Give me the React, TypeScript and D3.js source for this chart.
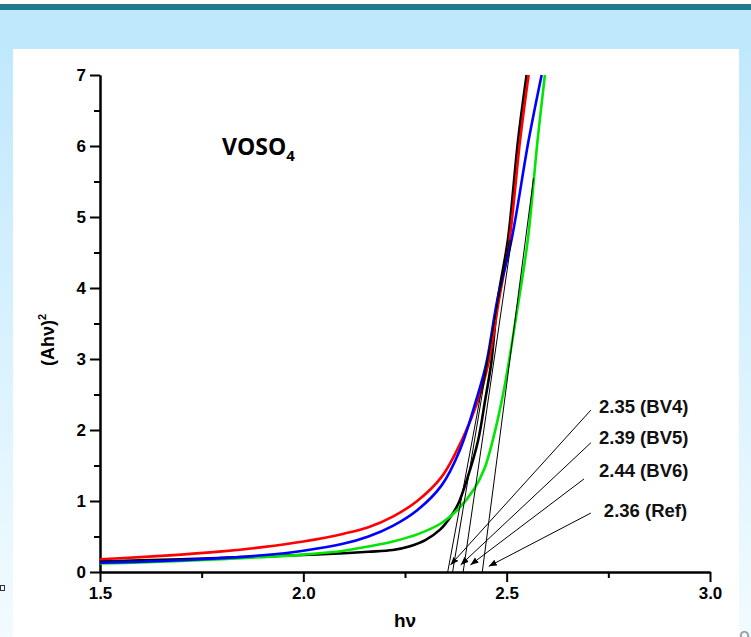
import React, { useEffect, useRef } from 'react';
import * as d3 from 'd3';

// curves: [hv, (Ahv)^2]
const refData: [number, number][] = [
  [1.5, 0.15], [1.6, 0.165], [1.7, 0.18], [1.8, 0.2], [1.9, 0.22], [2.0, 0.24],
  [2.1, 0.265], [2.16, 0.285], [2.22, 0.31], [2.26, 0.36], [2.3, 0.45], [2.337, 0.6],
  [2.36, 0.76], [2.38, 0.95], [2.405, 1.35], [2.43, 1.86], [2.447, 2.42], [2.462, 2.94],
  [2.478, 3.83], [2.503, 4.68], [2.528, 6.08], [2.549, 7.0]
];
const bv6Data: [number, number][] = [
  [1.5, 0.12], [1.6, 0.135], [1.7, 0.155], [1.8, 0.18], [1.9, 0.21], [2.0, 0.245],
  [2.1, 0.3], [2.16, 0.36], [2.22, 0.43], [2.28, 0.53], [2.34, 0.69], [2.38, 0.88],
  [2.42, 1.17], [2.445, 1.45], [2.466, 1.86], [2.493, 2.56], [2.527, 3.73], [2.552, 4.68],
  [2.576, 6.08], [2.594, 7.0]
];
const bv4Data: [number, number][] = [
  [1.5, 0.18], [1.6, 0.21], [1.7, 0.245], [1.8, 0.29], [1.9, 0.35], [2.0, 0.43],
  [2.1, 0.54], [2.16, 0.63], [2.22, 0.78], [2.28, 1.0], [2.34, 1.34], [2.39, 1.86],
  [2.43, 2.42], [2.455, 2.94], [2.481, 3.83], [2.507, 4.68], [2.533, 6.08], [2.554, 7.0]
];
const bv5Data: [number, number][] = [
  [1.5, 0.13], [1.6, 0.145], [1.7, 0.165], [1.8, 0.195], [1.9, 0.235], [2.0, 0.3],
  [2.1, 0.4], [2.16, 0.5], [2.22, 0.65], [2.28, 0.87], [2.34, 1.22], [2.385, 1.72],
  [2.425, 2.42], [2.45, 2.94], [2.477, 3.83], [2.512, 4.68], [2.554, 6.08], [2.586, 7.0]
];

const xTicks = [1.5, 2.0, 2.5, 3.0];
const xMinorTicks = [1.75, 2.25, 2.75];
const yTicks = [0, 1, 2, 3, 4, 5, 6, 7];
const yMinorTicks = [0.5, 1.5, 2.5, 3.5, 4.5, 5.5, 6.5];

// tangent lines: x-intercept and upper end
const tangentStart = [2.355, 2.393, 2.44, 2.367];
const tangentEnd: [number, number][] = [[2.507, 4.68], [2.512, 4.68], [2.566, 5.55], [2.503, 4.68]];

// annotations
const noteLabels = ['2.35 (BV4)', '2.39 (BV5)', '2.44 (BV6)', '2.36 (Ref)'];
const notePos: [number, number][] = [[2.727, 2.24], [2.727, 1.80], [2.727, 1.34], [2.739, 0.775]];
const noteFrom: [number, number][] = [[2.707, 2.28], [2.707, 1.82], [2.69, 1.31], [2.707, 0.83]];
const noteTo: [number, number][] = [[2.362, 0.1], [2.387, 0.1], [2.411, 0.1], [2.456, 0.08]];

const W = 751;
const H = 637;

const App: React.FC = () => {
  const svgRef = useRef<SVGSVGElement>(null);

  useEffect(() => {
    if (!svgRef.current) return;
    const root = d3.select(svgRef.current);
    root.selectAll('*').remove();

    const font = "'Liberation Sans', Arial, sans-serif";

    // slide background
    const defs = root.append('defs');
    const grad = defs.append('linearGradient').attr('id', 'side').attr('x1', 0).attr('y1', 0).attr('x2', 0).attr('y2', 1);
    grad.append('stop').attr('offset', '0%').attr('stop-color', '#c0e8fd');
    grad.append('stop').attr('offset', '100%').attr('stop-color', '#f2fbff');
    defs.append('marker')
      .attr('id', 'arrow')
      .attr('markerUnits', 'userSpaceOnUse')
      .attr('viewBox', '0 0 10 10')
      .attr('refX', 10).attr('refY', 5)
      .attr('markerWidth', 8).attr('markerHeight', 8)
      .attr('orient', 'auto')
      .append('path').attr('d', 'M0,1 L10,5 L0,9 Z').attr('fill', '#000');

    root.append('rect').attr('width', W).attr('height', H).attr('fill', '#fff');
    root.append('rect').attr('x', 0).attr('y', 4).attr('width', W).attr('height', 6).attr('fill', '#217a8d');
    root.append('rect').attr('x', 0).attr('y', 10).attr('width', W).attr('height', 39).attr('fill', '#c0e8fd');
    root.append('rect').attr('x', 0).attr('y', 49).attr('width', 13).attr('height', H - 49).attr('fill', 'url(#side)');
    root.append('rect').attr('x', 739).attr('y', 49).attr('width', 12).attr('height', H - 49).attr('fill', 'url(#side)');
    root.append('rect').attr('x', 0.5).attr('y', 585.5).attr('width', 4).attr('height', 5)
      .attr('fill', 'none').attr('stroke', '#333').attr('stroke-width', 1);
    root.append('text').attr('x', 739).attr('y', 645).attr('font-family', font).attr('font-size', 20)
      .attr('fill', '#999').text('9');

    const x = d3.scaleLinear().domain([1.5, 3.0]).range([100, 710]);
    const y = d3.scaleLinear().domain([0, 7]).range([572, 75]);

    // axes
    const yAxis = root.append('g').attr('transform', 'translate(100,0)')
      .call(d3.axisLeft(y).tickValues(yTicks).tickSize(10).tickSizeOuter(0).tickPadding(4).tickFormat(d3.format('d')));
    const yMinor = root.append('g').attr('transform', 'translate(100,0)')
      .call(d3.axisLeft(y).tickValues(yMinorTicks).tickSize(6).tickSizeOuter(0).tickFormat(() => ''));
    const xAxis = root.append('g').attr('transform', 'translate(0,572)')
      .call(d3.axisBottom(x).tickValues(xTicks).tickSize(10).tickSizeOuter(0).tickPadding(5).tickFormat(d3.format('.1f')));
    const xMinor = root.append('g').attr('transform', 'translate(0,572)')
      .call(d3.axisBottom(x).tickValues(xMinorTicks).tickSize(6).tickSizeOuter(0).tickFormat(() => ''));

    [yAxis, yMinor, xAxis, xMinor].forEach(g => {
      g.select('.domain').attr('stroke', '#000').attr('stroke-width', 2);
      g.selectAll('.tick line').attr('stroke', '#000').attr('stroke-width', 2);
      g.selectAll('.tick text')
        .attr('fill', '#000')
        .style('font-family', "'Liberation Sans Narrow', 'Arial Narrow', 'Liberation Sans', sans-serif")
        .style('font-weight', 'bold')
        .style('font-size', '17px');
    });

    // curves
    const line = d3.line<[number, number]>()
      .x(d => x(d[0]))
      .y(d => y(d[1]))
      .curve(d3.curveCatmullRom.alpha(0.5));

    const series: { data: [number, number][]; color: string }[] = [
      { data: refData, color: '#000000' },
      { data: bv6Data, color: '#00e600' },
      { data: bv4Data, color: '#ff0000' },
      { data: bv5Data, color: '#0000ff' },
    ];
    series.forEach(s => {
      root.append('path')
        .attr('d', line(s.data) || '')
        .attr('fill', 'none')
        .attr('stroke', s.color)
        .attr('stroke-width', 2.6)
        .attr('stroke-linejoin', 'round');
    });

    // tangents
    tangentStart.forEach((x0, i) => {
      root.append('line')
        .attr('x1', x(x0)).attr('y1', y(0))
        .attr('x2', x(tangentEnd[i][0])).attr('y2', y(tangentEnd[i][1]))
        .attr('stroke', '#000').attr('stroke-width', 1);
    });

    // annotation arrows and labels
    noteLabels.forEach((label, i) => {
      root.append('line')
        .attr('x1', x(noteFrom[i][0])).attr('y1', y(noteFrom[i][1]))
        .attr('x2', x(noteTo[i][0])).attr('y2', y(noteTo[i][1]))
        .attr('stroke', '#000').attr('stroke-width', 1)
        .attr('marker-end', 'url(#arrow)');
      root.append('text')
        .attr('x', x(notePos[i][0])).attr('y', y(notePos[i][1]))
        .attr('font-family', font)
        .attr('font-weight', 'bold')
        .attr('font-size', 18.5)
        .attr('fill', '#111')
        .text(label);
    });

    // title inside plot
    const title = root.append('text')
      .attr('x', 222).attr('y', 155)
      .attr('font-family', "'Open Sans', 'Liberation Sans', sans-serif")
      .attr('font-weight', 'bold')
      .attr('font-size', 23)
      .attr('fill', '#000');
    title.append('tspan').text('VOSO');
    title.append('tspan').attr('dy', 6).attr('font-size', 15).text('4');

    // axis titles
    root.append('text')
      .attr('x', 405).attr('y', 627)
      .attr('text-anchor', 'middle')
      .attr('font-family', font)
      .attr('font-weight', 'bold')
      .attr('font-size', 19)
      .text('hν');

    const yl = root.append('text')
      .attr('transform', 'translate(54,340) rotate(-90)')
      .attr('text-anchor', 'middle')
      .attr('font-family', font)
      .attr('font-weight', 'bold')
      .attr('font-size', 18);
    yl.append('tspan').text('(Ahν)');
    yl.append('tspan').attr('dy', -8).attr('font-size', 11).text('2');
  }, []);

  return (
    <div style={{ position: 'absolute', left: 0, top: 0 }}>
      <svg ref={svgRef} width={W} height={H} style={{ display: 'block' }}></svg>
    </div>
  );
};

export default App;
